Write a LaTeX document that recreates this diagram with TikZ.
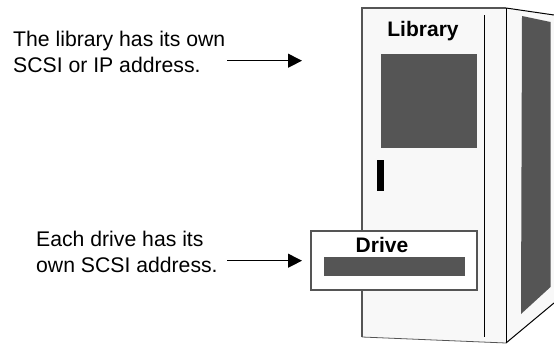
\documentclass[tikz,border=0pt]{standalone}
\usepackage{fontspec}
\setmainfont{Liberation Sans}
\usetikzlibrary{arrows.meta}
\tikzset{
  x=1pt,y=-1pt,
  cabinet/.style={fill=cabfill,draw=none},
  edgeg/.style={draw=edgegrey,line width=1.2pt},
  edgek/.style={draw=black,line width=1pt},
  dark/.style={fill=darkgrey,draw=none},
  note/.style={anchor=base west,inner sep=0pt,font=\fontsize{21.2}{21.2}\selectfont},
  title/.style={anchor=base,inner sep=0pt,font=\fontsize{21}{21}\selectfont\bfseries},
  pointer/.style={draw=black,line width=1pt,-{Triangle[length=14pt,width=14pt]}},
}
\definecolor{cabfill}{HTML}{F8F8F8}
\definecolor{edgegrey}{HTML}{555555}
\definecolor{darkgrey}{HTML}{555555}
\begin{document}
\begin{tikzpicture}
\useasboundingbox (0,0) rectangle (554,343);
% cabinet
\fill[cabinet] (362,8) -- (506,8) -- (554,15) -- (554,303) -- (506,343) -- (362,337) -- cycle;
\draw[edgeg] (362,337) -- (362,8) -- (506,8);
\draw[edgeg,line width=.8pt] (362,337) -- (506,343);
\draw[edgek] (506,8) -- (506,343);
\draw[edgek] (506,8) -- (554,15);
\draw[edgek] (506,343) -- (554,303);
\draw[black,line width=.7pt] (484,15) -- (484,337);
% side window
\fill[dark] (522,16) -- (550.5,22) -- (550.5,287) -- (521,314) -- cycle;
% front panel
\fill[dark] (381,54) rectangle (477,148);
\fill[black] (377,160) rectangle (384,191);
\node[title] (lib) at (423,36) {Library};
% drive
\node[draw=edgegrey,line width=1.4pt,fill=white,minimum width=166pt,minimum height=59pt,inner sep=0pt] (drive) at (394,260.5) {};
\fill[dark] (324,257) rectangle (465,276);
\node[title] (drv) at (382,252.7) {Drive};
% notes
\node[note] (n1) at (13,46.2) {The library has its own};
\node[note] (n2) at (13,72.2) {SCSI or IP address.};
\node[note] (n3) at (36,246.2) {Each drive has its};
\node[note] (n4) at (36,272.2) {own SCSI address.};
\coordinate (a1s) at (227,60.7);
\coordinate (a1e) at (302,60.7);
\coordinate (a2s) at (227,260.7);
\coordinate (a2e) at (302,260.7);
\draw[pointer] (a1s) -- (a1e);
\draw[pointer] (a2s) -- (a2e);
\end{tikzpicture}
\end{document}
